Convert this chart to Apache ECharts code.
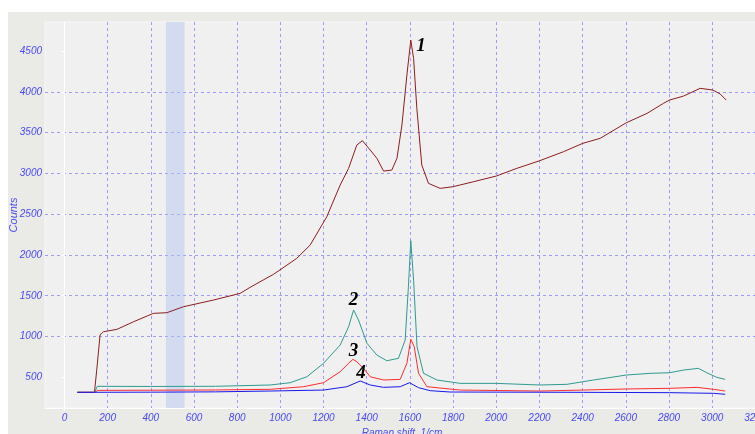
<!DOCTYPE html>
<html><head><meta charset="utf-8">
<script src="https://cdn.jsdelivr.net/npm/echarts@6/dist/echarts.min.js"></script>
<style>html,body{margin:0;padding:0;background:#fff;}#c{width:755px;height:434px;}</style>
</head><body><div id="c"></div>
<script>
// Raman shift (1/cm) and counts for each spectrum
var shift1 = [60,139,150,165,181,243,320,412,474,551,690,814,860,920,968,1076,1138,1215,1277,1316,1354,1380,1416,1447,1478,1516,1540,1563,1586,1604,1617,1632,1655,1686,1740,1799,1894,2000,2095,2200,2311,2401,2481,2559,2602,2698,2774,2802,2867,2944,3003,3037,3065];
var counts1 = [316,316,600,1019,1059,1088,1181,1284,1292,1365,1447,1529,1603,1692,1762,1958,2121,2468,2857,3061,3347,3400,3286,3184,3028,3040,3184,3592,4205,4634,4409,3797,3102,2877,2816,2836,2897,2967,3061,3154,3265,3368,3429,3552,3620,3735,3858,3898,3947,4042,4021,3972,3898];
var shift2 = [60,140,152,400,700,953,1045,1123,1200,1277,1316,1339,1362,1401,1447,1493,1547,1578,1593,1604,1617,1633,1663,1725,1833,2000,2200,2327,2450,2602,2713,2802,2867,2936,2975,3021,3060];
var counts2 = [316,316,390,388,390,406,434,507,672,896,1120,1325,1202,917,773,703,733,957,1610,2174,1692,875,549,467,426,426,406,414,467,528,549,556,589,610,556,500,475];
var shift3 = [60,140,155,400,700,953,1107,1200,1277,1316,1336,1354,1385,1416,1478,1555,1586,1604,1620,1640,1679,1833,2200,2404,2602,2802,2929,3006,3060];
var counts3 = [316,316,340,342,345,353,385,434,569,672,720,691,610,507,467,475,672,966,875,549,385,344,332,344,357,365,377,353,332];
var shift4 = [60,400,700,953,1200,1308,1370,1416,1478,1555,1598,1640,1694,1786,2404,2802,3006,3060];
var counts4 = [316,318,322,332,344,385,455,406,377,385,434,373,336,320,316,312,304,292];
// tick labels
var xTicks = [0,200,400,600,800,1000,1200,1400,1600,1800,2000,2200,2400,2600,2800,3000,3200];
var yTicks = [500,1000,1500,2000,2500,3000,3500,4000,4500];
// curve number labels: [shift, counts, text]
var curveLabels = [[1651,4564,'1'],[1339,1447,'2'],[1339,822,'3'],[1373,556,'4']];
var bandRange = [470,556];

function pairs(xs, ys){ return xs.map(function(x,i){return [x, ys[i]];}); }

var labelColor = '#4a4af0';
var gridColor = '#9d9df5';
var chart = echarts.init(document.getElementById('c'));
function axis(ticks, extra){
  return Object.assign({
    type:'value',
    axisLine:{show:true, lineStyle:{color:'#ffffff', width:1}},
    axisTick:{show:true, length:3, customValues:ticks, lineStyle:{color:'#ffffff'}},
    splitLine:{show:true, showMinLine:false, showMaxLine:false, lineStyle:{color:gridColor, type:[3,3], width:1}},
    axisLabel:{color:labelColor, fontStyle:'italic', fontFamily:'Liberation Sans', fontSize:10, customValues:ticks, formatter:function(v){return String(v);}},
    nameLocation:'middle',
    nameMoveOverlap:false,
    nameTextStyle:{color:labelColor, fontFamily:'Liberation Sans', fontSize:10, fontStyle:'italic'}
  }, extra);
}
function lineSeries(data, color){
  return {type:'line', data:data, showSymbol:false, symbol:'none', lineStyle:{color:color, width:1}, itemStyle:{color:color}, animation:false, z:3};
}
var s1 = lineSeries(pairs(shift1, counts1), '#8e1d1d');
s1.markArea = {silent:true, itemStyle:{color:'rgba(180,198,240,0.5)'}, data:[[{xAxis:bandRange[0]},{xAxis:bandRange[1]}]]};
var s4 = lineSeries(pairs(shift4, counts4), '#1818ee');
s4.markPoint = {
  symbol:'circle', symbolSize:0, silent:true,
  label:{show:true, color:'#000', fontFamily:'Liberation Serif', fontWeight:'bold', fontStyle:'italic', fontSize:19, formatter:function(p){return p.name;}},
  data: curveLabels.map(function(l){return {name:l[2], coord:[l[0], l[1]]};})
};
var xa = axis(xTicks, {min:-90, max:3300, name:'Raman shift, 1/cm', nameGap:20});
xa.nameTextStyle.padding = [0,18,0,0];
xa.axisLabel.margin = 5;
var ya = axis(yTicks, {min:124, max:4855, name:'Counts', nameGap:26});
ya.axisLabel.margin = 3;
ya.nameTextStyle.fontSize = 11;
chart.setOption({
  backgroundColor:'#ffffff',
  animation:false,
  graphic:[{type:'rect', left:8, top:12, shape:{width:760, height:430}, style:{fill:'#eaeae7'}, z:-10}],
  grid:{left:45, top:22, right:-22, bottom:26, outerBoundsMode:'none', containLabel:false, show:true, backgroundColor:'#f0f0f0', borderColor:'#f7f7f7', borderWidth:1},
  xAxis:xa,
  yAxis:ya,
  series:[s1, lineSeries(pairs(shift2, counts2), '#2f9a8f'), lineSeries(pairs(shift3, counts3), '#ff2b2b'), s4]
});
</script></body></html>
